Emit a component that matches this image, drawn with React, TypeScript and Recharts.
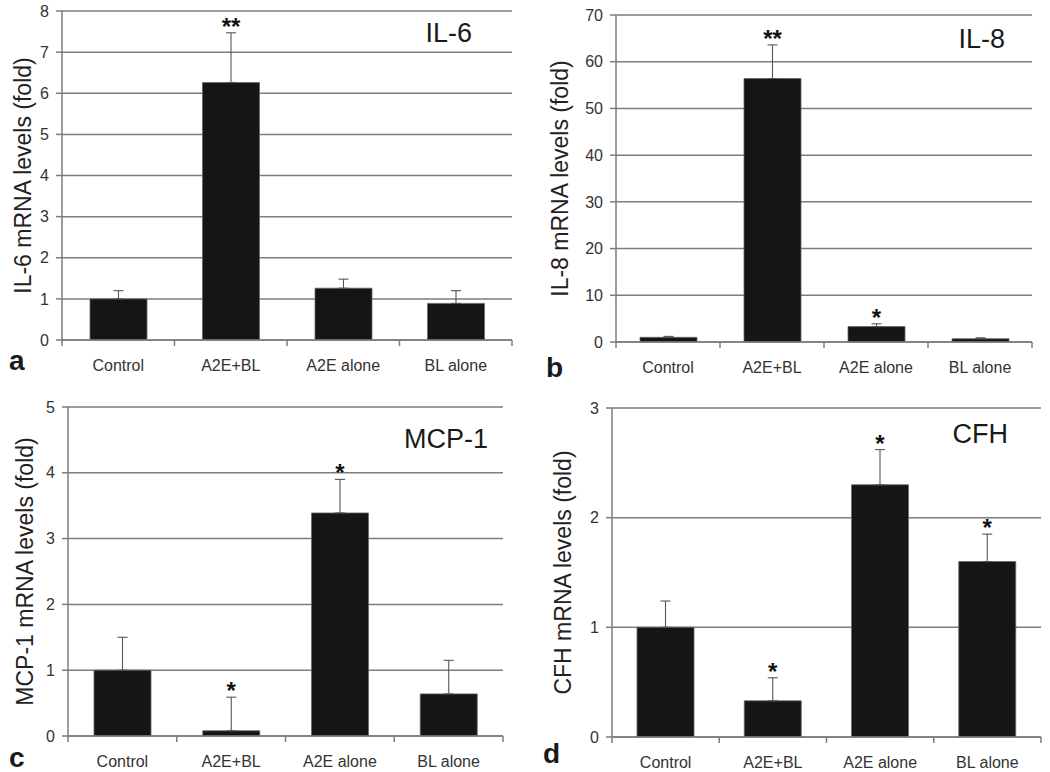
import { BarChart, Bar, XAxis, YAxis, CartesianGrid, ErrorBar, LabelList } from 'recharts'

const categories = ['Control', 'A2E+BL', 'A2E alone', 'BL alone']

const il6Values = [1.0, 6.26, 1.26, 0.89]
const il6Errors = [0.2, 1.21, 0.22, 0.31]
const il6Stars = ['', '**', '', '']
const il6Ticks = [0, 1, 2, 3, 4, 5, 6, 7, 8]

const il8Values = [1.0, 56.4, 3.3, 0.7]
const il8Errors = [0.2, 7.2, 0.6, 0.2]
const il8Stars = ['', '**', '*', '']
const il8Ticks = [0, 10, 20, 30, 40, 50, 60, 70]

const mcp1Values = [1.0, 0.08, 3.39, 0.64]
const mcp1Errors = [0.5, 0.51, 0.51, 0.51]
const mcp1Stars = ['', '*', '*', '']
const mcp1Ticks = [0, 1, 2, 3, 4, 5]

const cfhValues = [1.0, 0.33, 2.3, 1.6]
const cfhErrors = [0.24, 0.21, 0.32, 0.25]
const cfhStars = ['', '*', '*', '*']
const cfhTicks = [0, 1, 2, 3]

const FONT = 'Arial, "Liberation Sans", sans-serif'
const GRID = '#7d7d7d'

interface PanelProps {
  values: number[]
  errors: number[]
  stars: string[]
  ticks: number[]
  yLabel: string
  left: number
  top: number
  width: number
  height: number
  axisWidth: number
  margin: { top: number; right: number; bottom: number }
  xHeight: number
  labelOffset: number
}

function Panel(p: PanelProps) {
  const data = categories.map((name, i) => ({
    name,
    value: p.values[i],
    err: [0, p.errors[i]],
  }))
  const plotWidth = p.width - p.axisWidth - p.margin.right
  const band = plotWidth / categories.length

  const xTick = (props: any) => {
    const { x, y, payload, index } = props
    const lx = x - band / 2
    const rx = x + band / 2
    return (
      <g>
        <line x1={lx} y1={y} x2={lx} y2={y + 6} stroke={GRID} strokeWidth={1.5} />
        {index === categories.length - 1 && (
          <line x1={rx} y1={y} x2={rx} y2={y + 6} stroke={GRID} strokeWidth={1.5} />
        )}
        <text x={x} y={y + 31} textAnchor="middle" fontSize={16} fill="#333" fontFamily={FONT}>
          {payload.value}
        </text>
      </g>
    )
  }

  const star = (props: any) => {
    const { x, y, width, height, index } = props
    const s = p.stars[index]
    if (!s) return null
    const perUnit = height / p.values[index]
    const errTop = y - p.errors[index] * perUnit
    return (
      <text x={x + width / 2} y={errTop + 2} textAnchor="middle" fontSize={24} fontWeight="bold" fill="#111" fontFamily={FONT}>
        {s}
      </text>
    )
  }

  const max = p.ticks[p.ticks.length - 1]

  return (
    <div style={{ position: 'absolute', left: p.left, top: p.top }}>
      <BarChart
        width={p.width}
        height={p.height}
        data={data}
        margin={{ top: p.margin.top, right: p.margin.right, bottom: p.margin.bottom, left: 0 }}
        barSize={57}
      >
        <CartesianGrid vertical={false} stroke={GRID} strokeWidth={1.5} />
        <XAxis
          dataKey="name"
          height={p.xHeight}
          tickSize={0}
          tickMargin={0}
          tickLine={false}
          axisLine={{ stroke: GRID, strokeWidth: 1.5 }}
          tick={xTick}
          interval={0}
        />
        <YAxis
          width={p.axisWidth}
          domain={[0, max]}
          ticks={p.ticks}
          allowDataOverflow
          tickSize={6}
          tickMargin={7}
          tickLine={{ stroke: GRID, strokeWidth: 1.5 }}
          axisLine={{ stroke: GRID, strokeWidth: 1.5 }}
          tick={{ fontSize: 16, fill: '#333', fontFamily: FONT }}
          label={{
            value: p.yLabel,
            angle: -90,
            position: 'insideLeft',
            offset: p.labelOffset,
            style: { textAnchor: 'middle', fontSize: 23, fill: '#222', fontFamily: FONT },
          }}
        />
        <YAxis
          yAxisId="frame"
          orientation="right"
          width={0}
          tick={false}
          tickLine={false}
          axisLine={{ stroke: GRID, strokeWidth: 1.5 }}
        />
        <Bar dataKey="value" fill="#151515" stroke="#666" strokeWidth={0.8} isAnimationActive={false}>
          <ErrorBar dataKey="err" direction="y" width={5} stroke="#555" strokeWidth={1.1} />
          <LabelList dataKey="value" content={star} />
        </Bar>
      </BarChart>
    </div>
  )
}

export default function App() {
  return (
    <div style={{ position: 'absolute', left: 0, top: 0, width: 1050, height: 772, background: '#fff', overflow: 'hidden' }}>
      <Panel
        values={il6Values} errors={il6Errors} stars={il6Stars} ticks={il6Ticks}
        yLabel="IL-6 mRNA levels (fold)"
        left={0} top={0} width={525} height={390} axisWidth={62}
        margin={{ top: 11, right: 13, bottom: 10 }} xHeight={40} labelOffset={23}
      />
      <Panel
        values={il8Values} errors={il8Errors} stars={il8Stars} ticks={il8Ticks}
        yLabel="IL-8 mRNA levels (fold)"
        left={525} top={0} width={525} height={390} axisWidth={91}
        margin={{ top: 15, right: 18, bottom: 8 }} xHeight={40} labelOffset={35}
      />
      <Panel
        values={mcp1Values} errors={mcp1Errors} stars={mcp1Stars} ticks={mcp1Ticks}
        yLabel="MCP-1 mRNA levels (fold)"
        left={0} top={386} width={525} height={386} axisWidth={68}
        margin={{ top: 21, right: 22, bottom: 0 }} xHeight={36} labelOffset={25}
      />
      <Panel
        values={cfhValues} errors={cfhErrors} stars={cfhStars} ticks={cfhTicks}
        yLabel="CFH mRNA levels (fold)"
        left={525} top={386} width={525} height={386} axisWidth={87}
        margin={{ top: 22, right: 9, bottom: 0 }} xHeight={35} labelOffset={38}
      />
      <svg width={1050} height={772} style={{ position: 'absolute', left: 0, top: 0, pointerEvents: 'none' }}>
        <g fontFamily={FONT} fill="#1a1a1a">
          <text x={472} y={42} textAnchor="end" fontSize={27}>IL-6</text>
          <text x={1005} y={48} textAnchor="end" fontSize={27}>IL-8</text>
          <text x={488} y={448} textAnchor="end" fontSize={27}>MCP-1</text>
          <text x={1008} y={443} textAnchor="end" fontSize={27}>CFH</text>
          <text x={9} y={370} fontSize={28} fontWeight="bold">a</text>
          <text x={546} y={377} fontSize={28} fontWeight="bold">b</text>
          <text x={9} y={767} fontSize={28} fontWeight="bold">c</text>
          <text x={543} y={763} fontSize={28} fontWeight="bold">d</text>
        </g>
      </svg>
    </div>
  )
}
